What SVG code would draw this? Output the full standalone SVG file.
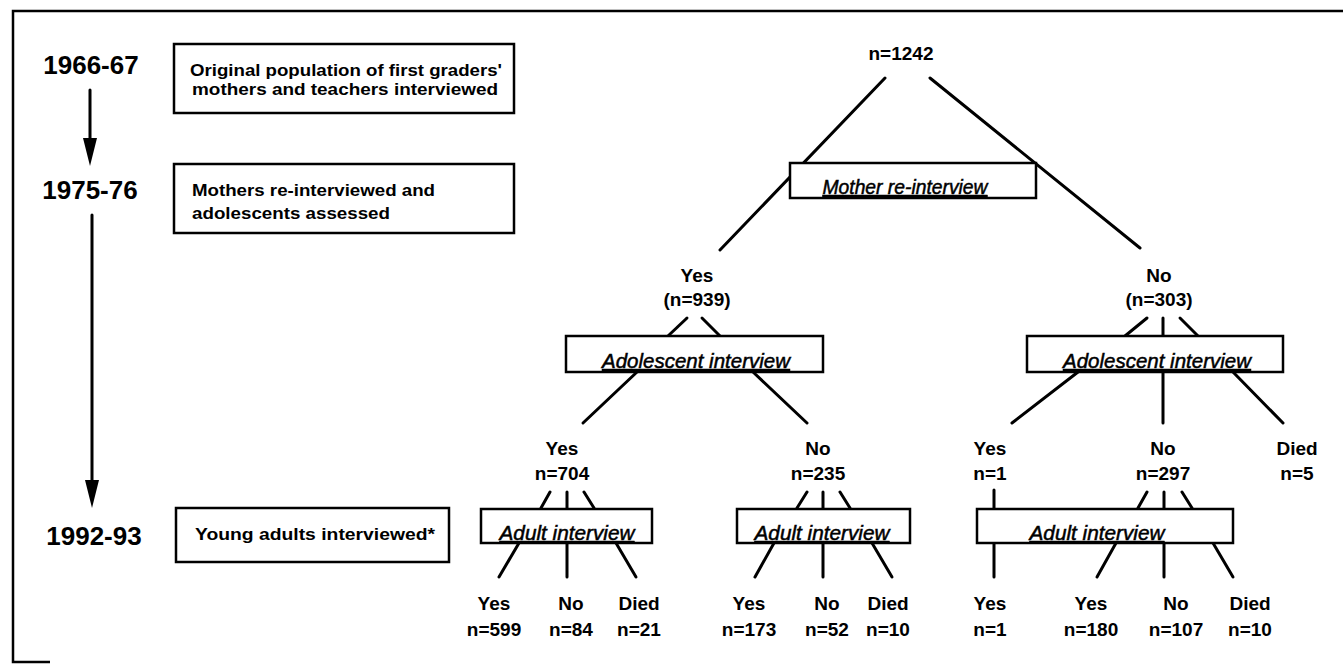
<svg xmlns="http://www.w3.org/2000/svg" width="1343" height="664" viewBox="0 0 1343 664">
<style>
.frame{fill:none;stroke:#000;stroke-width:2.5}
.box{fill:#fff;stroke:#000;stroke-width:2.5}
.ln{stroke:#000;stroke-width:3;fill:none;stroke-linecap:round}
.yr{font-family:"Liberation Sans",Arial,sans-serif;font-weight:bold;font-size:26px;fill:#000;text-anchor:middle}
.lt{font-family:"Liberation Sans",Arial,sans-serif;font-weight:bold;font-size:17px;fill:#000}
.lb{font-family:"Liberation Sans",Arial,sans-serif;font-weight:bold;font-size:19px;fill:#000;text-anchor:middle}
.it{font-family:"Liberation Sans",Arial,sans-serif;font-size:20px;font-style:italic;fill:#000;stroke:#000;stroke-width:0.5;text-anchor:middle;text-decoration:underline}
</style>
<rect width="1343" height="664" fill="#fff"/>
<path class="frame" d="M1343 11 H13 V662 H50"/>

<g id="timeline">
  <text class="yr" x="91" y="74">1966-67</text>
  <text class="yr" x="90" y="199">1975-76</text>
  <text class="yr" x="94" y="545">1992-93</text>
  <line class="ln" x1="90" y1="90" x2="90" y2="142"/>
  <polygon points="83,138 97,138 90,166" fill="#000"/>
  <line class="ln" x1="92" y1="215" x2="92" y2="484"/>
  <polygon points="85,480 99,480 92,508" fill="#000"/>
</g>

<g id="stage1">
  <rect class="box" x="174" y="44" width="340" height="69"/>
  <text class="lt" x="190" y="76" textLength="312" lengthAdjust="spacingAndGlyphs">Original population of first graders'</text>
  <text class="lt" x="192" y="95" textLength="306" lengthAdjust="spacingAndGlyphs">mothers and teachers interviewed</text>
</g>
<g id="stage2">
  <rect class="box" x="174" y="164" width="340" height="69"/>
  <text class="lt" x="192" y="196" textLength="243" lengthAdjust="spacingAndGlyphs">Mothers re-interviewed and</text>
  <text class="lt" x="192" y="219" textLength="198" lengthAdjust="spacingAndGlyphs">adolescents assessed</text>
</g>
<g id="stage3">
  <rect class="box" x="176" y="508" width="273" height="54"/>
  <text class="lt" x="195" y="540" textLength="240" lengthAdjust="spacingAndGlyphs">Young adults interviewed*</text>
</g>

<g id="connectors">
  <line class="ln" x1="885" y1="78" x2="720" y2="250"/>
  <line class="ln" x1="930" y1="78" x2="1140" y2="248"/>
  <line class="ln" x1="687" y1="318" x2="668" y2="336"/>
  <line class="ln" x1="702" y1="318" x2="720" y2="336"/>
  <line class="ln" x1="637" y1="372" x2="583" y2="423"/>
  <line class="ln" x1="753" y1="372" x2="807" y2="423"/>
  <line class="ln" x1="1147" y1="318" x2="1125" y2="336"/>
  <line class="ln" x1="1163" y1="318" x2="1163" y2="336"/>
  <line class="ln" x1="1180" y1="318" x2="1198" y2="336"/>
  <line class="ln" x1="1078" y1="372" x2="1012" y2="423"/>
  <line class="ln" x1="1163" y1="372" x2="1163" y2="423"/>
  <line class="ln" x1="1233" y1="372" x2="1283" y2="423"/>
  <line class="ln" x1="550" y1="492" x2="541" y2="508"/>
  <line class="ln" x1="567" y1="492" x2="567" y2="508"/>
  <line class="ln" x1="584" y1="492" x2="594" y2="508"/>
  <line class="ln" x1="807" y1="492" x2="797" y2="508"/>
  <line class="ln" x1="823" y1="492" x2="823" y2="508"/>
  <line class="ln" x1="840" y1="492" x2="850" y2="508"/>
  <line class="ln" x1="994" y1="490" x2="994" y2="508"/>
  <line class="ln" x1="1147" y1="492" x2="1138" y2="508"/>
  <line class="ln" x1="1164" y1="492" x2="1164" y2="508"/>
  <line class="ln" x1="1182" y1="492" x2="1192" y2="508"/>
  <line class="ln" x1="519" y1="543" x2="499" y2="577"/>
  <line class="ln" x1="567" y1="543" x2="567" y2="577"/>
  <line class="ln" x1="616" y1="543" x2="636" y2="577"/>
  <line class="ln" x1="774" y1="543" x2="755" y2="577"/>
  <line class="ln" x1="823" y1="543" x2="823" y2="577"/>
  <line class="ln" x1="872" y1="543" x2="892" y2="577"/>
  <line class="ln" x1="994" y1="543" x2="994" y2="577"/>
  <line class="ln" x1="1116" y1="543" x2="1097" y2="577"/>
  <line class="ln" x1="1164" y1="543" x2="1164" y2="577"/>
  <line class="ln" x1="1213" y1="543" x2="1233" y2="577"/>
</g>

<g id="root"><text class="lb" x="901" y="60">n=1242</text></g>
<g id="mother-box">
  <rect class="box" x="790" y="163" width="246" height="35"/>
  <text class="it" x="905" y="194" textLength="165" lengthAdjust="spacingAndGlyphs">Mother re-interview</text>
</g>
<g id="m-yes"><text class="lb" x="697" y="282">Yes</text><text class="lb" x="697" y="306">(n=939)</text></g>
<g id="m-no"><text class="lb" x="1159" y="282">No</text><text class="lb" x="1159" y="306">(n=303)</text></g>
<g id="adol-box-1">
  <rect class="box" x="566" y="336" width="257" height="36"/>
  <text class="it" x="696" y="368" textLength="188" lengthAdjust="spacingAndGlyphs">Adolescent interview</text>
</g>
<g id="adol-box-2">
  <rect class="box" x="1027" y="336" width="256" height="36"/>
  <text class="it" x="1157" y="368" textLength="188" lengthAdjust="spacingAndGlyphs">Adolescent interview</text>
</g>
<g id="a-yes-704"><text class="lb" x="562" y="455">Yes</text><text class="lb" x="562" y="480">n=704</text></g>
<g id="a-no-235"><text class="lb" x="818" y="455">No</text><text class="lb" x="818" y="480">n=235</text></g>
<g id="a-yes-1"><text class="lb" x="990" y="455">Yes</text><text class="lb" x="990" y="480">n=1</text></g>
<g id="a-no-297"><text class="lb" x="1163" y="455">No</text><text class="lb" x="1163" y="480">n=297</text></g>
<g id="a-died-5"><text class="lb" x="1297" y="455">Died</text><text class="lb" x="1297" y="480">n=5</text></g>
<g id="adult-box-1">
  <rect class="box" x="481" y="509" width="171" height="34"/>
  <text class="it" x="567" y="540" textLength="135" lengthAdjust="spacingAndGlyphs">Adult interview</text>
</g>
<g id="adult-box-2">
  <rect class="box" x="737" y="509" width="173" height="34"/>
  <text class="it" x="822" y="540" textLength="135" lengthAdjust="spacingAndGlyphs">Adult interview</text>
</g>
<g id="adult-box-3">
  <rect class="box" x="977" y="509" width="256" height="34"/>
  <text class="it" x="1097" y="540" textLength="135" lengthAdjust="spacingAndGlyphs">Adult interview</text>
</g>
<g id="y-599"><text class="lb" x="494" y="610">Yes</text><text class="lb" x="494" y="636">n=599</text></g>
<g id="n-84"><text class="lb" x="571" y="610">No</text><text class="lb" x="571" y="636">n=84</text></g>
<g id="d-21"><text class="lb" x="639" y="610">Died</text><text class="lb" x="639" y="636">n=21</text></g>
<g id="y-173"><text class="lb" x="749" y="610">Yes</text><text class="lb" x="749" y="636">n=173</text></g>
<g id="n-52"><text class="lb" x="827" y="610">No</text><text class="lb" x="827" y="636">n=52</text></g>
<g id="d-10a"><text class="lb" x="888" y="610">Died</text><text class="lb" x="888" y="636">n=10</text></g>
<g id="y-1b"><text class="lb" x="990" y="610">Yes</text><text class="lb" x="990" y="636">n=1</text></g>
<g id="y-180"><text class="lb" x="1091" y="610">Yes</text><text class="lb" x="1091" y="636">n=180</text></g>
<g id="n-107"><text class="lb" x="1176" y="610">No</text><text class="lb" x="1176" y="636">n=107</text></g>
<g id="d-10b"><text class="lb" x="1250" y="610">Died</text><text class="lb" x="1250" y="636">n=10</text></g>
</svg>
